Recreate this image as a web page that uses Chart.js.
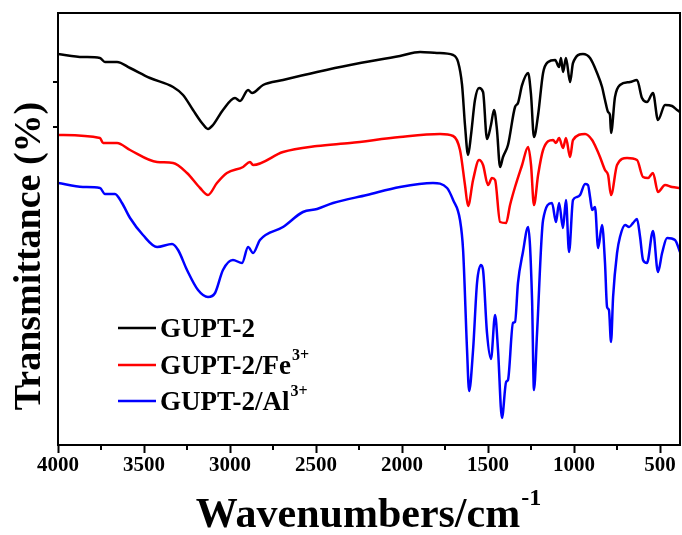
<!DOCTYPE html>
<html><head><meta charset="utf-8">
<script src="https://cdn.jsdelivr.net/npm/chart.js@4.4.0/dist/chart.umd.min.js"></script>
<style>html,body{margin:0;padding:0;background:#fff}#wrap{width:682px;height:535px}</style>
</head><body><div id="wrap"><canvas id="c" width="682" height="535" style="width:682px;height:535px"></canvas></div>
<script>
// Series labels (base text + superscript)
const seriesLabels = ['GUPT-2', 'GUPT-2/Fe', 'GUPT-2/Al'];
const seriesSup = ['', '3+', '3+'];
const seriesColors = ['#000000', '#ff0000', '#0000ff'];

// GUPT-2 (black)
const blackWn = [4000,3855,3756,3727,3657,3581,3465,3331,3273,3215,3163,3128,3099,3041,2971,2942,2895,2872,2808,2692,2494,2302,2012,1895,1797,1703,1674,1651,1634,1616,1599,1576,1552,1529,1506,1483,1465,1448,1430,1413,1384,1343,1326,1302,1267,1250,1233,1209,1180,1151,1110,1087,1076,1064,1047,1023,1006,948,907,866,837,820,802,791,785,762,733,674,634,605,576,541,512,471,430,401,384];
const blackT = [391,388,387,383,383,377,367,358,350,335,322,316,320,335,347,344,355,352,360,365,373,380,389,393,392,390,383,360,320,290,310,345,357,353,306,320,335,315,278,288,300,338,342,360,372,350,308,330,372,383,385,378,387,373,387,363,382,391,387,372,358,345,333,330,312,348,360,363,365,347,343,352,325,340,339,335,333];

// GUPT-2/Fe3+ (red)
const redWn = [4000,3756,3738,3657,3581,3424,3331,3250,3174,3128,3076,3018,2924,2884,2866,2692,2494,2302,2012,1779,1703,1663,1634,1616,1587,1552,1529,1500,1477,1459,1430,1395,1372,1343,1302,1267,1250,1233,1209,1180,1122,1105,1087,1064,1047,1023,1006,936,895,866,849,820,802,785,750,692,634,599,570,541,512,471,430,384];
const redT = [310,307,302,302,295,283,282,272,257,250,262,272,278,283,280,293,299,302,308,311,309,295,260,239,265,285,280,260,267,265,223,222,240,258,280,298,280,240,270,295,305,302,307,297,307,288,305,311,305,295,288,275,270,250,280,287,285,268,267,272,253,260,258,257];

// GUPT-2/Al3+ (blue)
const blueWn = [4000,3855,3756,3727,3669,3628,3581,3506,3424,3337,3302,3250,3186,3128,3087,3041,2983,2930,2895,2866,2826,2692,2576,2494,2401,2204,2012,1820,1738,1703,1663,1645,1622,1610,1587,1564,1541,1529,1506,1483,1459,1442,1419,1395,1384,1355,1343,1326,1297,1267,1244,1233,1215,1180,1128,1105,1087,1064,1047,1029,1006,983,965,936,919,907,895,878,860,837,820,808,797,785,773,750,733,703,680,657,634,616,599,576,541,512,488,459,413,384];
const blueT = [262,258,257,251,251,242,227,210,198,201,195,175,155,148,152,175,185,182,198,192,205,218,233,236,242,250,258,262,257,245,225,195,95,54,95,162,180,175,112,86,130,95,27,63,65,122,123,162,193,218,145,55,112,225,242,223,242,217,245,193,245,248,250,261,260,248,235,238,197,220,182,138,135,103,148,192,208,220,218,222,226,208,185,182,214,173,192,207,205,193];

// Axis ticks
const xTickValues = [4000,3500,3000,2500,2000,1500,1000,500];
const xMinorTicks = [3750,3250,2750,2250,1750,1250,750];
const yTickValues = [363,318];

const SERIF = '"Liberation Serif", "Times New Roman", serif';

function pts(xs, ys){ return xs.map((w,i)=>({x:w, y:ys[i]})); }

const framePlugin = {
  id: 'frame',
  afterDraw(chart){
    const {ctx, chartArea:a, scales:{x, y}} = chart;
    ctx.save();
    ctx.strokeStyle = '#000';
    ctx.lineWidth = 2;
    ctx.strokeRect(a.left, a.top, a.right - a.left, a.bottom - a.top);
    // minor x ticks
    ctx.lineWidth = 2;
    xMinorTicks.forEach(v => {
      const px = Math.round(x.getPixelForValue(v));
      ctx.beginPath(); ctx.moveTo(px, a.bottom); ctx.lineTo(px, a.bottom + 5); ctx.stroke();
    });
    // y ticks
    yTickValues.forEach(v => {
      const py = Math.round(y.getPixelForValue(v));
      ctx.beginPath(); ctx.moveTo(a.left - 5, py); ctx.lineTo(a.left, py); ctx.stroke();
    });
    // y title
    ctx.fillStyle = '#000';
    ctx.save();
    ctx.translate(30, 256);
    ctx.rotate(-Math.PI/2);
    ctx.font = 'bold 38px ' + SERIF;
    ctx.textAlign = 'center';
    ctx.textBaseline = 'middle';
    ctx.fillText('Transmittance (%)', 0, 0);
    ctx.restore();
    // x title with superscript
    ctx.font = 'bold 42px ' + SERIF;
    ctx.textAlign = 'left';
    ctx.textBaseline = 'alphabetic';
    const base = 'Wavenumbers/cm';
    const bw = ctx.measureText(base).width;
    ctx.font = 'bold 24px ' + SERIF;
    const sw = ctx.measureText('-1').width;
    const startX = 368 - (bw + sw) / 2;
    ctx.font = 'bold 42px ' + SERIF;
    ctx.fillText(base, startX, 527);
    ctx.font = 'bold 24px ' + SERIF;
    ctx.fillText('-1', startX + bw + 1, 505);
    // legend
    const legY = [328, 365, 401];
    chart.data.datasets.forEach((ds, i) => {
      const yy = legY[i];
      ctx.strokeStyle = ds.borderColor;
      ctx.lineWidth = 2.5;
      ctx.beginPath(); ctx.moveTo(118, yy); ctx.lineTo(156, yy); ctx.stroke();
      ctx.fillStyle = '#000';
      ctx.font = 'bold 27px ' + SERIF;
      ctx.textBaseline = 'alphabetic';
      ctx.fillText(seriesLabels[i], 160, yy + 9);
      if (seriesSup[i]) {
        const w = ctx.measureText(seriesLabels[i]).width;
        ctx.font = 'bold 16px ' + SERIF;
        ctx.fillText(seriesSup[i], 160 + w + 1, yy - 5);
      }
    });
    ctx.restore();
  }
};

new Chart(document.getElementById('c'), {
  type: 'line',
  data: {
    datasets: [
      {label: seriesLabels[0], data: pts(blackWn, blackT), borderColor: seriesColors[0]},
      {label: seriesLabels[1], data: pts(redWn, redT), borderColor: seriesColors[1]},
      {label: seriesLabels[2], data: pts(blueWn, blueT), borderColor: seriesColors[2]}
    ]
  },
  options: {
    responsive: false,
    animation: false,
    devicePixelRatio: 1,
    layout: {padding: {left: 58, top: 13, right: 2, bottom: 0}},
    elements: {
      line: {borderWidth: 2.5, fill: false, cubicInterpolationMode: 'monotone'},
      point: {radius: 0, hoverRadius: 0}
    },
    plugins: {legend: {display: false}, tooltip: {enabled: false}, title: {display: false}},
    scales: {
      x: {
        type: 'linear', reverse: true, min: 384, max: 4000,
        afterBuildTicks(scale){ scale.ticks = xTickValues.map(v => ({value: v})); },
        afterFit(scale){ scale.height = 90; },
        grid: {display: true, drawOnChartArea: false, drawTicks: true, tickLength: 8, tickWidth: 2, tickColor: '#000'},
        border: {display: false},
        ticks: {color: '#000', font: {family: SERIF, size: 21, weight: 'bold'}, padding: 0, maxRotation: 0, autoSkip: false,
          callback: v => String(v)}
      },
      y: {
        display: false, min: 0, max: 432
      }
    }
  },
  plugins: [framePlugin]
});
</script>
</body></html>
